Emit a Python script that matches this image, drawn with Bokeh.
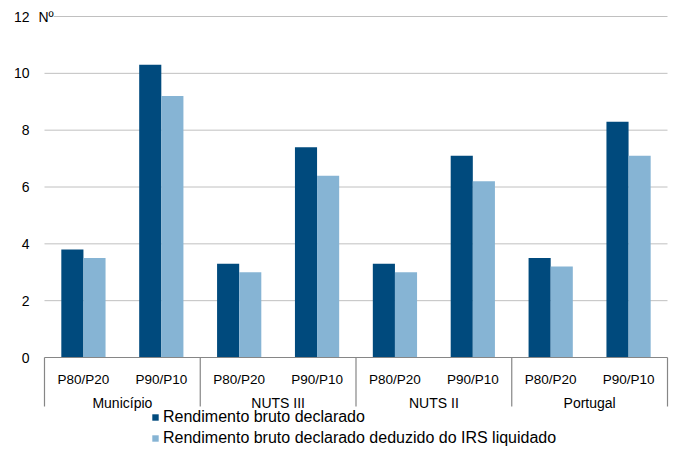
from bokeh.plotting import figure
from bokeh.models import FactorRange, Range1d, FixedTicker, Label, ColumnDataSource
from bokeh.transform import dodge
from bokeh.core.properties import value
from bokeh.embed import file_html
from bokeh.resources import INLINE

# ---- data ----
groups = ["Município", "NUTS III", "NUTS II", "Portugal"]
subs = ["P80/P20", "P90/P10"]
bruto = [3.8, 10.3, 3.3, 7.4, 3.3, 7.1, 3.5, 8.3]
liquido = [3.5, 9.2, 3.0, 6.4, 3.0, 6.2, 3.2, 7.1]
series_names = ["Rendimento bruto declarado",
                "Rendimento bruto declarado deduzido do IRS liquidado"]
y_ticks = [0, 2, 4, 6, 8, 10, 12]
y_unit = "Nº"

# ---- styling ----
FONT = "Liberation Sans"
DARK = "#004A7D"
LIGHT = "#86B4D4"
GRID = "#C0C0C0"
AXIS = "#868686"

factors = [(g, s) for g in groups for s in subs]
n = len(factors)
src = ColumnDataSource(dict(x=factors, bruto=bruto, liquido=liquido))

W, H = 673, 450
y_top = 12
px = 341.0 / y_top          # pixels per unit
y_max = y_top + 16 / px
y_min = -(H - 16 - 341) / px
xpad = 0.077

p = figure(width=W, height=H,
           x_range=FactorRange(factors=factors, factor_padding=0, group_padding=0,
                               subgroup_padding=0, range_padding=xpad,
                               range_padding_units="absolute"),
           y_range=Range1d(y_min, y_max),
           x_axis_location=None, toolbar_location=None, output_backend="svg",
           min_border_left=38, min_border_right=0, min_border_top=0, min_border_bottom=0,
           outline_line_color=None, title=None)

p.yaxis.ticker = FixedTicker(ticks=y_ticks)
p.yaxis.axis_line_color = None
p.yaxis.major_tick_line_color = None
p.yaxis.minor_tick_line_color = None
p.yaxis.major_tick_out = 0
p.yaxis.major_tick_in = 0
p.yaxis.major_label_standoff = 9
p.yaxis.major_label_text_font = FONT
p.yaxis.major_label_text_font_size = "14px"
p.yaxis.major_label_text_color = "#000000"
p.xgrid.visible = False
p.ygrid.visible = False

# horizontal gridlines across the category span
grid_y = [t for t in y_ticks if t > 0]
p.segment(x0=[0] * len(grid_y), x1=[n] * len(grid_y), y0=grid_y, y1=grid_y,
          line_color=GRID, line_width=1)

bw = 0.284
p.vbar(x=dodge('x', -bw / 2, range=p.x_range), top='bruto', width=bw, source=src,
       fill_color=DARK, line_color=None, legend_label=series_names[0])
p.vbar(x=dodge('x', bw / 2, range=p.x_range), top='liquido', width=bw, source=src,
       fill_color=LIGHT, line_color=None, legend_label=series_names[1])

# category axis drawn as boxes
step = len(subs)
bounds = list(range(0, n + 1, step))
sep_bottom = -(406 - 357) / px
p.segment(x0=[0], x1=[n], y0=[0], y1=[0], line_color=AXIS, line_width=1.2)
p.segment(x0=bounds, x1=bounds, y0=[0] * len(bounds), y1=[sep_bottom] * len(bounds),
          line_color=AXIS, line_width=1.2)

sub_src = ColumnDataSource(dict(x=factors, t=[f[1] for f in factors],
                                y=[-(378.5 - 357) / px] * n))
p.text(x='x', y='y', text='t', source=sub_src, text_align="center",
       text_baseline="alphabetic", text_font=value(FONT), text_font_size="13.5px",
       text_color="#000000")
grp_src = ColumnDataSource(dict(x=groups, t=groups,
                                y=[-(402.5 - 357) / px] * len(groups)))
p.text(x='x', y='y', text='t', source=grp_src, text_align="center",
       text_baseline="alphabetic", text_font=value(FONT), text_font_size="14px",
       text_color="#000000")

p.add_layout(Label(x=-xpad, y=y_top, text=y_unit, text_baseline="middle",
                   text_align="left", text_font=FONT, text_font_size="14px",
                   text_color="#000000", background_fill_color="white"))

lg = p.legend[0]
lg.location = (113, 3)
lg.orientation = "vertical"
lg.border_line_color = None
lg.background_fill_alpha = 0
lg.padding = 0
lg.margin = 0
lg.spacing = 2
lg.label_text_font = FONT
lg.label_text_font_size = "16px"
lg.label_text_color = "#000000"
lg.glyph_height = 8
lg.glyph_width = 8
lg.label_standoff = 4
lg.label_height = 19

open("out.html", "w").write(file_html(p, INLINE))
